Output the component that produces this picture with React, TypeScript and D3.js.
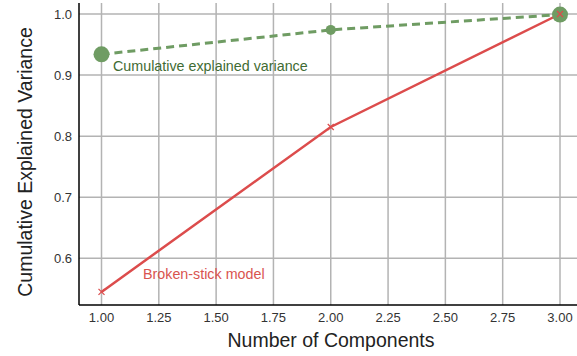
import React from "react";
import * as d3 from "d3";

const components = [1, 2, 3];
const cumulativeVariance = [0.934, 0.974, 0.999];
const brokenStick = [0.545, 0.815, 1.0];
const markerRadii = [8, 5, 8];
const xTicks = [1.0, 1.25, 1.5, 1.75, 2.0, 2.25, 2.5, 2.75, 3.0];
const yTicks = [0.6, 0.7, 0.8, 0.9, 1.0];

const W = 577;
const H = 356;
const left = 79;
const bottom = 305;
const top = 3;

export default function App() {
  const x = d3.scaleLinear().domain([1.0, 3.0]).range([101.5, 560]);
  const y = d3.scaleLinear().domain([0.6, 1.0]).range([258.3, 14]);
  const line = d3.line<[number, number]>().x((d) => x(d[0])).y((d) => y(d[1]));
  const cumPts = components.map((c, i) => [c, cumulativeVariance[i]] as [number, number]);
  const bsPts = components.map((c, i) => [c, brokenStick[i]] as [number, number]);
  const font = "'Liberation Sans', Arial, Helvetica, sans-serif";
  const green = "#6f9c63";
  const red = "#dc4c4c";
  return (
    <svg width={W} height={H} style={{ position: "absolute", left: 0, top: 0, fontFamily: font }}>
      <rect width={W} height={H} fill="#fff" />
      {xTicks.map((t) => (
        <line key={"gx" + t} x1={x(t)} x2={x(t)} y1={top} y2={bottom} stroke="#b3b3b3" strokeWidth={1.5} />
      ))}
      {yTicks.map((t) => (
        <line key={"gy" + t} x1={left} x2={W} y1={y(t)} y2={y(t)} stroke="#b3b3b3" strokeWidth={1.5} />
      ))}
      <line x1={left} x2={left} y1={top} y2={bottom} stroke="#000" strokeWidth={1.5} />
      <line x1={left} x2={W} y1={bottom} y2={bottom} stroke="#000" strokeWidth={1.5} />
      {xTicks.map((t) => (
        <text key={"tx" + t} x={x(t)} y={bottom + 17} textAnchor="middle" fontSize={13} fill="#333">
          {t.toFixed(2)}
        </text>
      ))}
      {yTicks.map((t) => (
        <text key={"ty" + t} x={72} y={y(t) + 4.5} textAnchor="end" fontSize={13} fill="#333">
          {t.toFixed(1)}
        </text>
      ))}
      <path d={line(bsPts) || ""} fill="none" stroke={red} strokeWidth={2.5} />
      {bsPts.map((p, i) => (
        <g key={"bx" + i} stroke={red} strokeWidth={1.2}>
          <line x1={x(p[0]) - 3} x2={x(p[0]) + 3} y1={y(p[1]) - 3} y2={y(p[1]) + 3} />
          <line x1={x(p[0]) - 3} x2={x(p[0]) + 3} y1={y(p[1]) + 3} y2={y(p[1]) - 3} />
        </g>
      ))}
      <path d={line(cumPts) || ""} fill="none" stroke={green} strokeWidth={3} strokeDasharray="8,5" />
      {cumPts.map((p, i) => (
        <circle key={"c" + i} cx={x(p[0])} cy={y(p[1])} r={markerRadii[i]} fill={green} />
      ))}
      <line x1={x(3) - 3} x2={x(3) + 3} y1={y(1.0) - 3} y2={y(1.0) + 3} stroke={red} strokeWidth={1.2} />
      <line x1={x(3) - 3} x2={x(3) + 3} y1={y(1.0) + 3} y2={y(1.0) - 3} stroke={red} strokeWidth={1.2} />
      <text x={113} y={71} fontSize={14.3} fill="#3f6b33">Cumulative explained variance</text>
      <text x={143} y={279} fontSize={14.3} fill="#d9544f">Broken-stick model</text>
      <text x={331} y={347} textAnchor="middle" fontSize={19.5} fill="#222">Number of Components</text>
      <text transform={`translate(32,162) rotate(-90)`} textAnchor="middle" fontSize={19.5} fill="#222">
        Cumulative Explained Variance
      </text>
    </svg>
  );
}
